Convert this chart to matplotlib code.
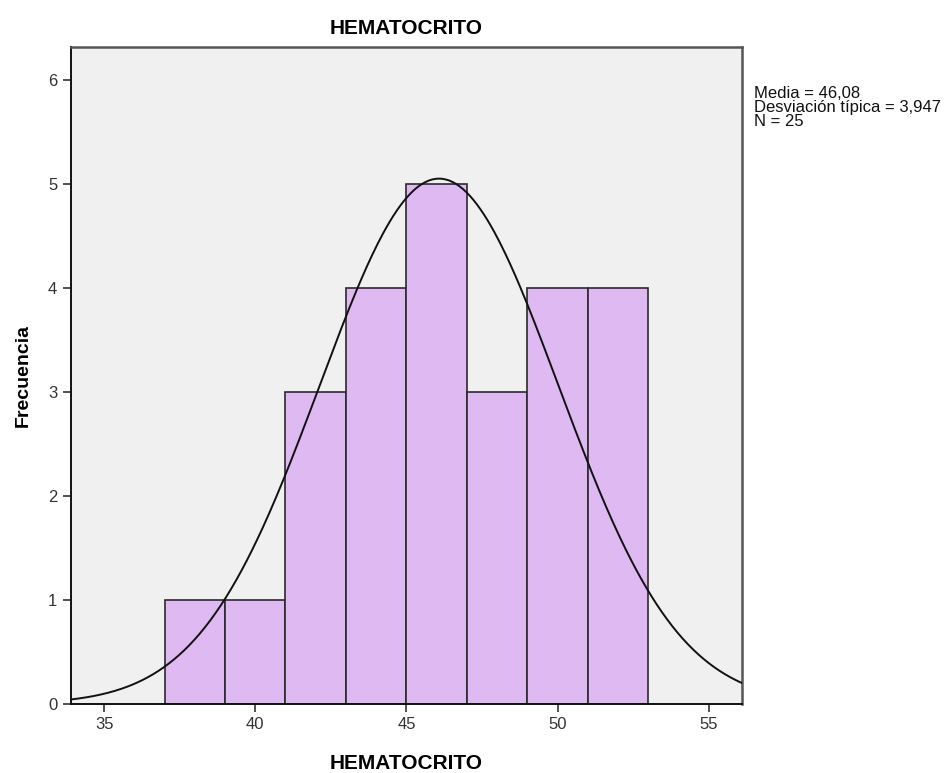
import numpy as np
import matplotlib.pyplot as plt

plt.rcParams['font.family'] = ['Liberation Sans', 'DejaVu Sans']

# histogram bins (edges) and counts for hematocrit
bin_edges = [37, 39, 41, 43, 45, 47, 49, 51, 53]
counts = [1, 1, 3, 4, 5, 3, 4, 4]
media = 46.08
desv = 3.947
n = 25

fig = plt.figure(figsize=(9.48, 7.73), dpi=100)
ax = fig.add_axes([0.0744, 0.0893, 0.7083, 0.8499])
ax.set_facecolor('#f0f0f0')

lefts = bin_edges[:-1]
widths = np.diff(bin_edges)
ax.bar(lefts, counts, width=widths, align='edge', color='#dfb9f1',
       edgecolor='#2a2a2a', linewidth=1.2, zorder=2)

# normal curve scaled to the histogram
xs = np.linspace(33.5, 56.5, 400)
bw = widths[0]
ys = n * bw / (desv * np.sqrt(2 * np.pi)) * np.exp(-0.5 * ((xs - media) / desv) ** 2)
ax.plot(xs, ys, color='#111111', linewidth=1.4, zorder=3)

ax.set_xlim(33.89, 56.10)
ax.set_ylim(0, 6.32)
ax.set_xticks([35, 40, 45, 50, 55])
ax.set_yticks(range(0, 7))
ax.tick_params(direction='out', length=6, width=1.2, labelsize=12, colors='#333333')

for side in ['left', 'bottom']:
    ax.spines[side].set_color('#111111')
    ax.spines[side].set_linewidth(1.4)
for side in ['top', 'right']:
    ax.spines[side].set_color('#555555')
    ax.spines[side].set_linewidth(1.8)

ax.set_title('HEMATOCRITO', fontsize=15, fontweight='bold', pad=9)
ax.set_xlabel('HEMATOCRITO', fontsize=15, fontweight='bold', labelpad=16)
ax.set_ylabel('Frecuencia', fontsize=14, fontweight='bold', labelpad=12)

fig.text(0.795, 0.889,
         'Media = 46,08\nDesviación típica = 3,947\nN = 25',
         fontsize=12, va='top', ha='left', linespacing=0.92, color='#111111')

fig.savefig('out.png', dpi=100)
